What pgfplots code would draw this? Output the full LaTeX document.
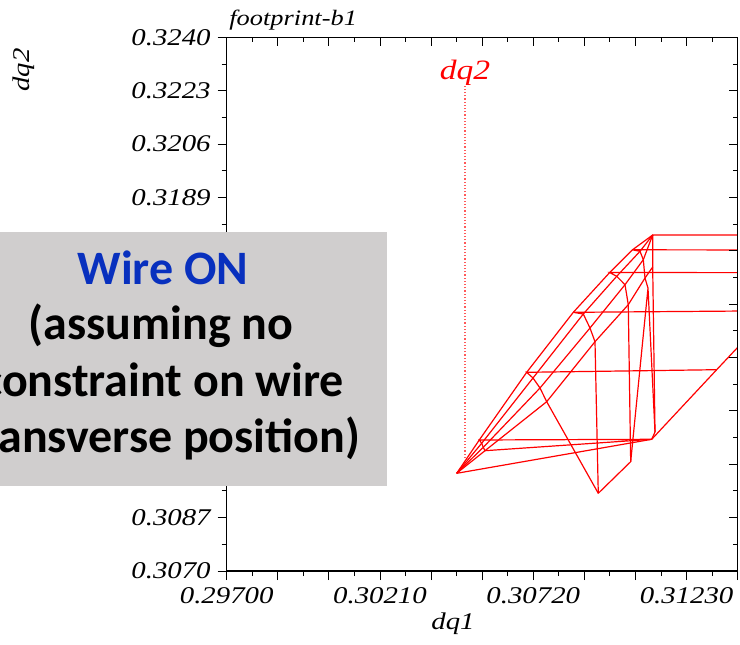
\documentclass[border=0pt]{standalone}
\usepackage{fontspec}
\usepackage{pgfplots}
\pgfplotsset{compat=1.18}
\newfontfamily\plotfont{Liberation Serif}[FakeStretch=1.2]
\newfontfamily\boxfont{Carlito}
\definecolor{boxgray}{RGB}{208,206,206}
\definecolor{wireblue}{RGB}{8,48,190}
\pgfplotsset{
  base/.style={
    scale only axis, width=255.5pt, height=266.85pt,
    xmin=0.297, xmax=0.314, ymin=0.307, ymax=0.324,
    xtick={0.297,0.2987,0.3004,0.3021,0.3038,0.3055,0.3072,0.3089,0.3106,0.3123,0.314},
    ytick={0.307,0.3087,0.3104,0.3121,0.3138,0.3155,0.3172,0.3189,0.3206,0.3223,0.324},
    minor tick num=1,
    major tick length=4.5pt, minor tick length=2.5pt,
    axis line style={line width=0.6pt},
    every tick/.style={black, line width=0.45pt},
  },
  fp/.style={red, line width=0.6pt, mark=none},
}
\begin{document}
\begin{tikzpicture}
\begin{axis}[base,
  tick align=outside, xtick pos=left, ytick pos=left,
  xticklabels={0.29700,,,0.30210,,,0.30720,,,0.31230,},
  yticklabels={0.3070,0.3087,0.3104,0.3121,0.3138,0.3155,0.3172,0.3189,0.3206,0.3223,0.3240},
  tick label style={font=\fontsize{12}{14}\plotfont\itshape},
]
% dotted marker line
\addplot[red!65, densely dotted, line width=0.6pt, mark=none] coordinates {(0.304928,0.310599) (0.304928,0.322449)};
% angle 0 line
\addplot[fp] coordinates {(0.304652,0.310112) (0.311139,0.311195) (0.313301,0.313412) (0.315075,0.315218)};
% outer arc
\addplot[fp] coordinates {(0.304652,0.310112) (0.305403,0.311173) (0.306980,0.313329) (0.308531,0.315240) (0.309742,0.316508) (0.310500,0.317231) (0.311172,0.317703)};
% inner radial lines
\addplot[fp] coordinates {(0.304652,0.310112) (0.305483,0.311068) (0.307190,0.313148) (0.308863,0.315186) (0.309975,0.316387) (0.310750,0.317183) (0.311172,0.317703)};
\addplot[fp] coordinates {(0.304652,0.310112) (0.305537,0.310940) (0.307423,0.312829) (0.309086,0.314740) (0.310251,0.316120) (0.310860,0.316916) (0.311172,0.317703)};
\addplot[fp] coordinates {(0.304652,0.310112) (0.305593,0.310832) (0.307646,0.312393) (0.309253,0.314304) (0.310360,0.315483) (0.310916,0.316333) (0.311172,0.316683)};
% amplitude lines
\addplot[fp] coordinates {(0.311139,0.311195) (0.305403,0.311173) (0.305483,0.311068) (0.305537,0.310940) (0.305593,0.310832) (0.311139,0.311195)};
\addplot[fp] coordinates {(0.313301,0.313412) (0.306980,0.313329) (0.307190,0.313148) (0.307423,0.312829) (0.307646,0.312393) (0.309362,0.309475)};
\addplot[fp] coordinates {(0.3155,0.315291) (0.308531,0.315240) (0.308863,0.315186) (0.309086,0.314740) (0.309253,0.314304) (0.309362,0.309475)};
\addplot[fp] coordinates {(0.3155,0.316502) (0.309742,0.316508) (0.309975,0.316387) (0.310251,0.316120) (0.310360,0.315483) (0.310440,0.310482)};
\addplot[fp] coordinates {(0.3155,0.317225) (0.310500,0.317231) (0.310750,0.317183) (0.310860,0.316916) (0.310916,0.316333) (0.311016,0.316014)};
\addplot[fp] coordinates {(0.3155,0.317703) (0.311172,0.317703) (0.311172,0.316683) (0.311249,0.311428)};
% last angle line
\addplot[fp] coordinates {(0.309362,0.309475) (0.310440,0.310482) (0.311016,0.316014) (0.311249,0.311428) (0.311139,0.311195)};
\node[red, font=\fontsize{14}{16}\plotfont\itshape, anchor=base] at (axis cs:0.304928,0.32264) {dq2};
\end{axis}
\begin{axis}[base,
  tick align=inside, xtick pos=right, ytick pos=right,
  xticklabels={}, yticklabels={},
  tick label style={text opacity=0, font=\tiny},
]
\end{axis}
\begin{scope}[x=0.5pt, y=-0.5pt, shift={(-113.35pt,285.5pt)}]
  \node[font=\fontsize{11}{13}\plotfont\itshape, anchor=base west, inner sep=0pt] at (229,26) {footprint-b1};
  \node[font=\fontsize{12}{14}\plotfont\itshape, anchor=base] at (453,629) {dq1};
  \node[font=\fontsize{12}{14}\plotfont\itshape, anchor=base, rotate=90, inner sep=0pt] at (30,70) {dq2};
  \fill[boxgray] (-10,232) rectangle (387,486);
  \node[wireblue, font=\fontsize{24}{28}\boxfont\bfseries, anchor=base] at (163,285) {Wire ON};
  \node[font=\fontsize{24}{28}\boxfont\bfseries, anchor=base] at (161,339) {(assuming no};
  \node[font=\fontsize{24}{28}\boxfont\bfseries, anchor=base] at (163,396) {constraint on wire};
  \node[font=\fontsize{24}{28}\boxfont\bfseries, anchor=base] at (163,452) {transverse position)};
  \pgfresetboundingbox
  \useasboundingbox (0,0) rectangle (740,644);
\end{scope}
\end{tikzpicture}
\end{document}
